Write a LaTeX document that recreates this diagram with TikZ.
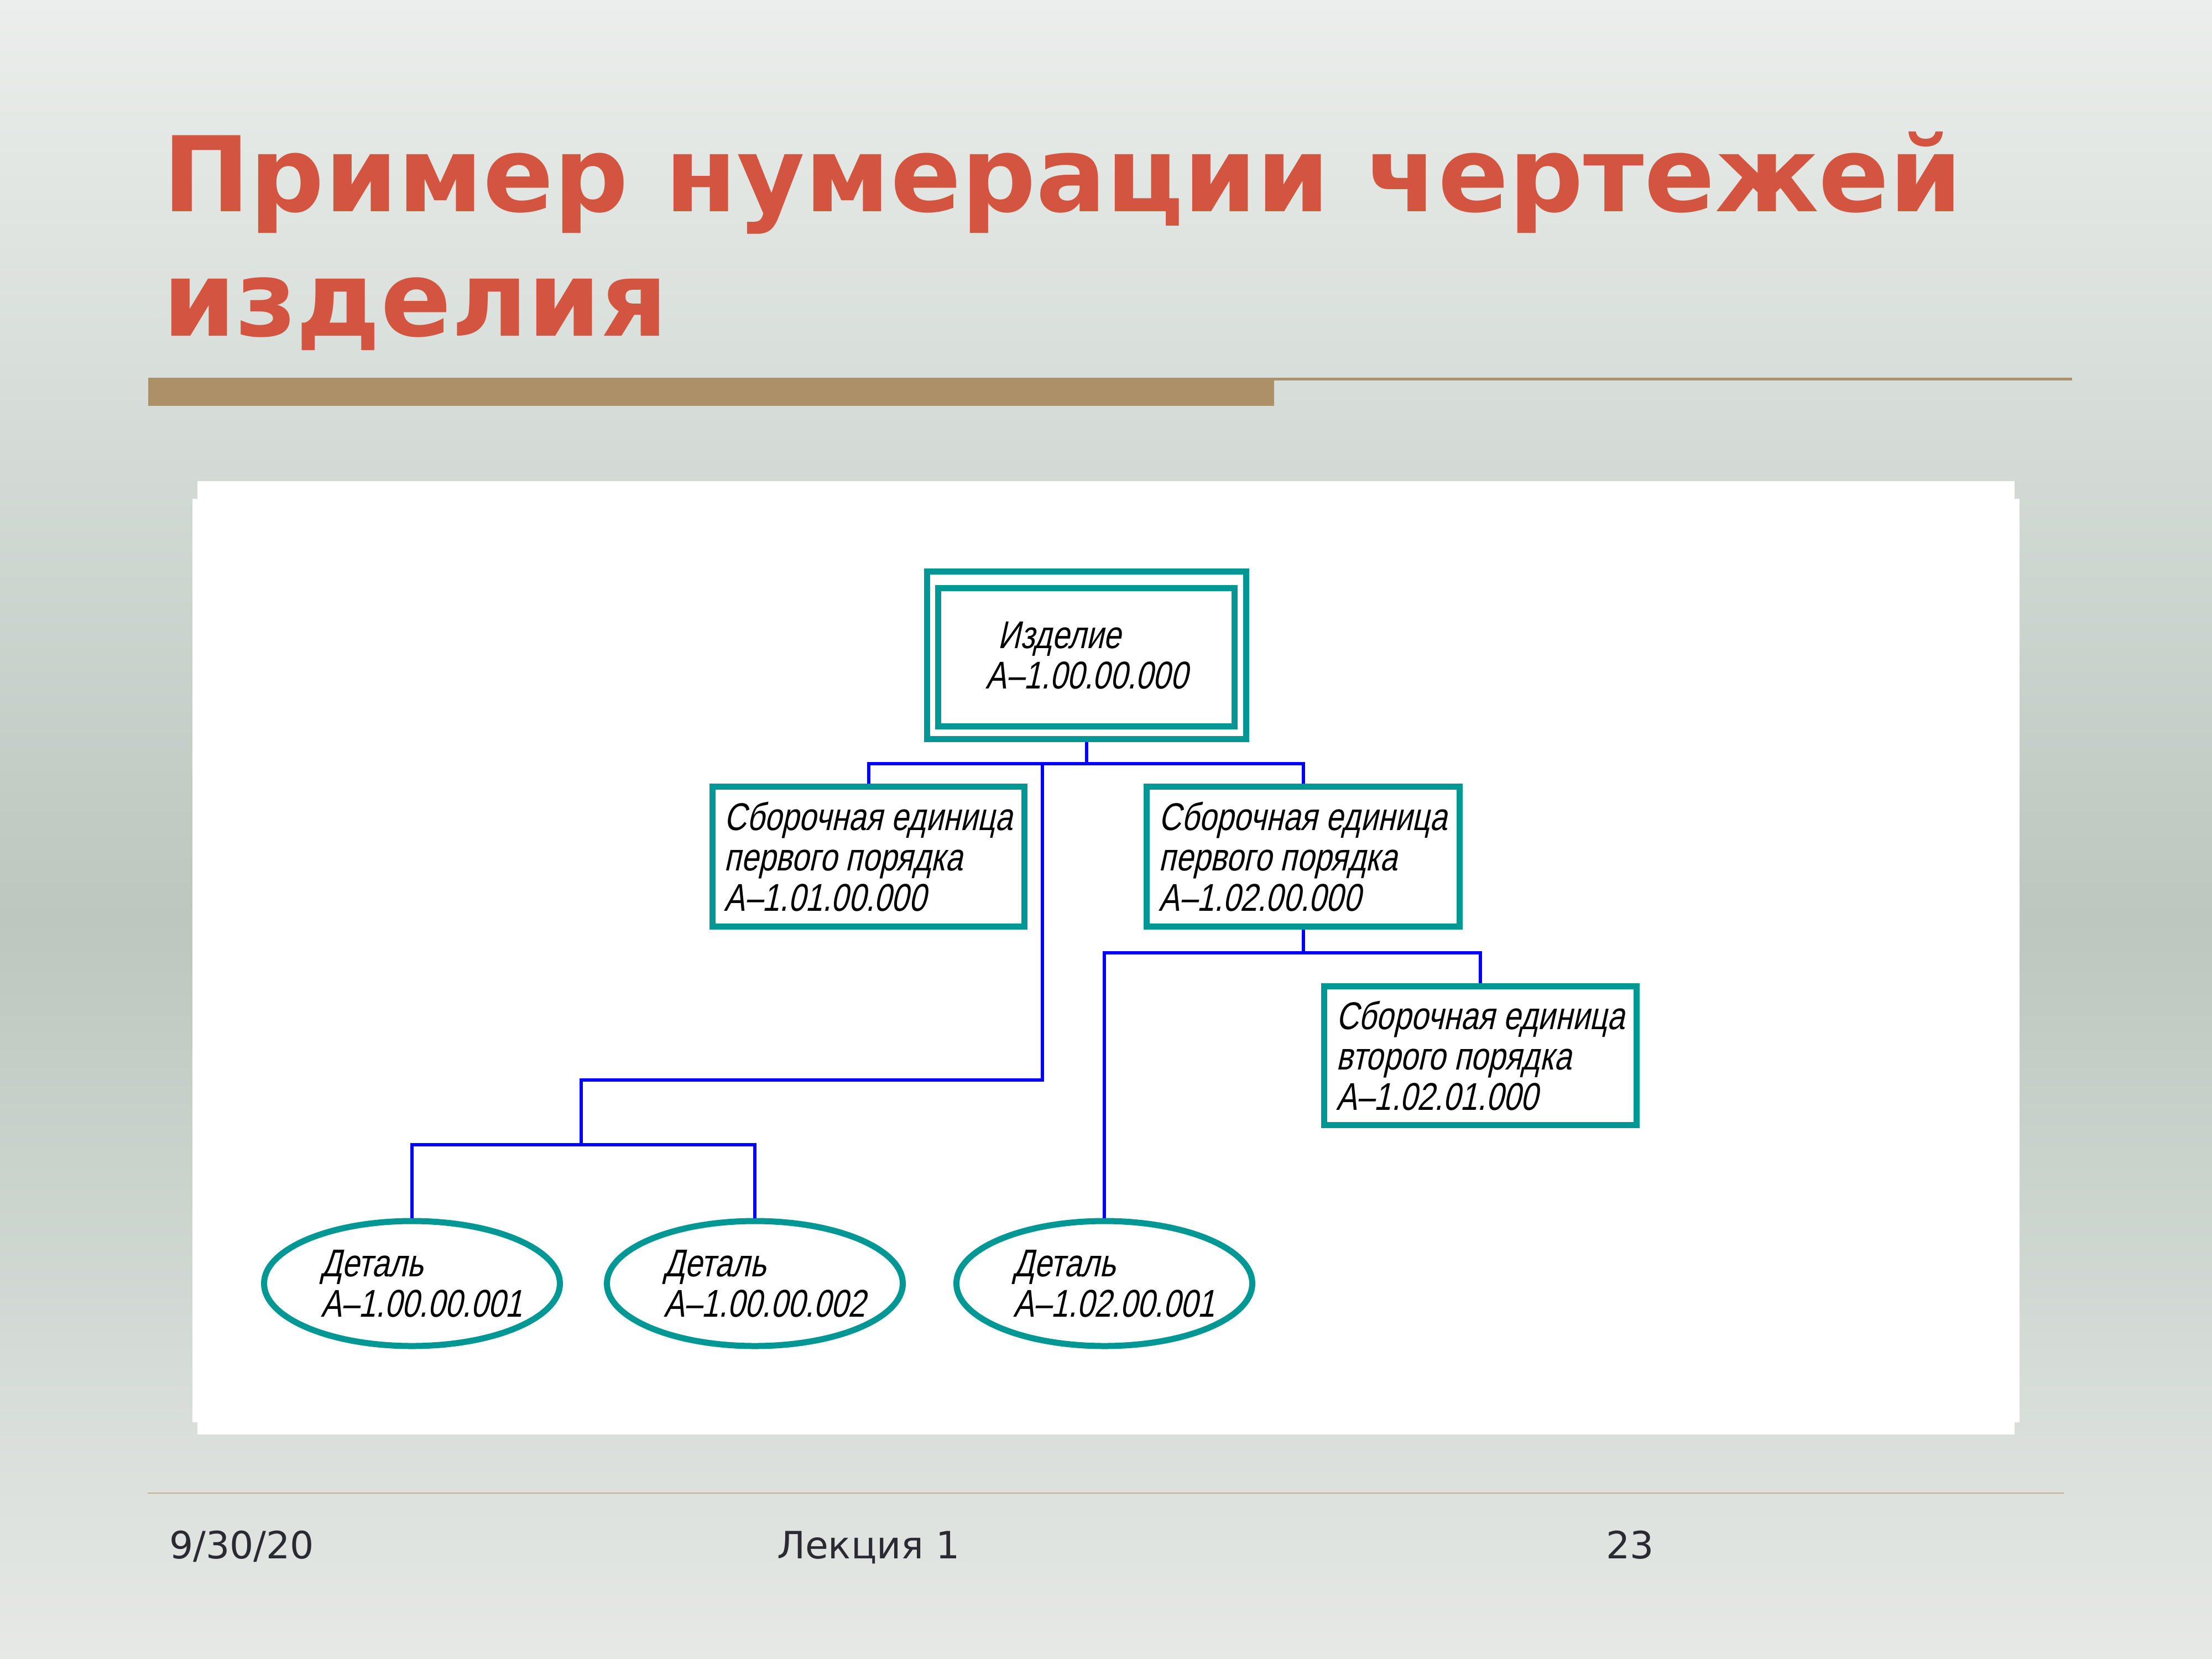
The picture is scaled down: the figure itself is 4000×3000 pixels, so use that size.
\documentclass[tikz,border=0pt]{standalone}
\usepackage{fontspec}
\setmainfont{DejaVu Sans}
\newfontfamily\gost[FakeSlant=0.22,FakeStretch=0.8]{Liberation Sans}
\usetikzlibrary{shapes.geometric}
\definecolor{bgtop}{HTML}{EBEEEC}
\definecolor{bgmid}{HTML}{BCC7BF}
\definecolor{bgbot}{HTML}{E6E9E6}
\definecolor{titlered}{HTML}{D4553F}
\definecolor{tanbar}{HTML}{AD8F68}
\definecolor{tanlight}{HTML}{C2B08E}
\definecolor{tealbox}{HTML}{009794}
\definecolor{foottext}{HTML}{2A2A33}
\newcommand\shiftline[1]{\hspace*{3.5pt}#1\hspace*{-3.5pt}}
\begin{document}
\begin{tikzpicture}[x=0.2pt,y=-0.2pt,
  gostfont/.style={font=\gost\fontsize{14pt}{14.6pt}\selectfont},
  box/.style={draw=tealbox, line width=2.2pt, fill=white, inner sep=0pt, align=left, gostfont},
  ell/.style={ellipse, draw=tealbox, line width=2.2pt, fill=white, inner sep=0pt, align=left,
    minimum width=107pt, minimum height=45.2pt, gostfont},
  link/.style={draw=blue, line width=1.2pt},
  titletext/.style={anchor=base west, inner sep=0pt, text=titlered, font=\bfseries\fontsize{37.75pt}{44pt}\selectfont},
  footlabel/.style={anchor=base west, inner sep=0pt, text=foottext, font=\fontsize{13.6pt}{16pt}\selectfont}
]
\useasboundingbox (0,0) rectangle (4000,3000);
% background
\shade[top color=bgtop, bottom color=bgmid] (0,0) rectangle (4000,1660);
\shade[top color=bgmid, bottom color=bgbot] (0,1660) rectangle (4000,3000);
% title
\node[titletext] (title1) at (293,382) {Пример нумерации чертежей};
\node[titletext] (title2) at (293,607) {изделия};
% rule under title
\fill[tanbar] (268,683) rectangle (2304,734);
\fill[tanbar] (2304,683) rectangle (3747,688);
% white panel
\fill[white] (357,870) rectangle (3643,2594);
\fill[white] (348,902) rectangle (3652,2572);
% boxes
\node[box, minimum width=115.4pt, minimum height=60.6pt] (top) at (1965,1185)
  {\hspace*{4.4pt}Изделие\\А–1.00.00.000};
\draw[tealbox, line width=2.2pt] ([shift={(25.5,35.5)}]top.north west) rectangle ([shift={(-26.5,-28.5)}]top.south east);
\node[box, minimum width=112.8pt, minimum height=50.6pt] (b2a) at (1570.5,1549)
  {Сборочная единица\\первого порядка\\А–1.01.00.000};
\node[box, minimum width=113.2pt, minimum height=50.6pt] (b2b) at (2356.5,1549)
  {Сборочная единица\\первого порядка\\А–1.02.00.000};
\node[box, minimum width=113pt, minimum height=50.2pt] (b3) at (2677,1909)
  {Сборочная единица\\второго порядка\\А–1.02.01.000};
\node[ell] (e1) at (745,2321) {\shiftline{Деталь}\\\shiftline{А–1.00.00.001}};
\node[ell] (e2) at (1365,2321) {\shiftline{Деталь}\\\shiftline{А–1.00.00.002}};
\node[ell] (e3) at (1997,2321) {\shiftline{Деталь}\\\shiftline{А–1.02.00.001}};
% connectors
\coordinate (j1) at (1965,1381);
\coordinate (j2) at (1885,1381);
\coordinate (k1) at (1051,1953);
\coordinate (j3) at (1051,2070);
\coordinate (j4) at (2356.5,1723);
\draw[link] (top.south) -- (j1);
\draw[link] (b2a.north) -- (b2a.north |- j1) -- (b2b.north |- j1) -- (b2b.north);
\draw[link] (j2) |- (k1) -- (j3);
\draw[link] (e1.north) -- (e1.north |- j3) -- (e2.north |- j3) -- (e2.north);
\draw[link] (b2b.south) -- (j4);
\draw[link] (e3.north) -- (e3.north |- j4) -- (b3.north |- j4) -- (b3.north);
% footer
\draw[tanlight, line width=0.5pt] (267,2700) -- (3732,2700);
\node[footlabel] (date) at (305,2818) {9/30/20};
\node[footlabel] (lecture) at (1404,2818) {Лекция 1};
\node[footlabel] (page) at (2903,2818) {23};
\end{tikzpicture}
\end{document}
